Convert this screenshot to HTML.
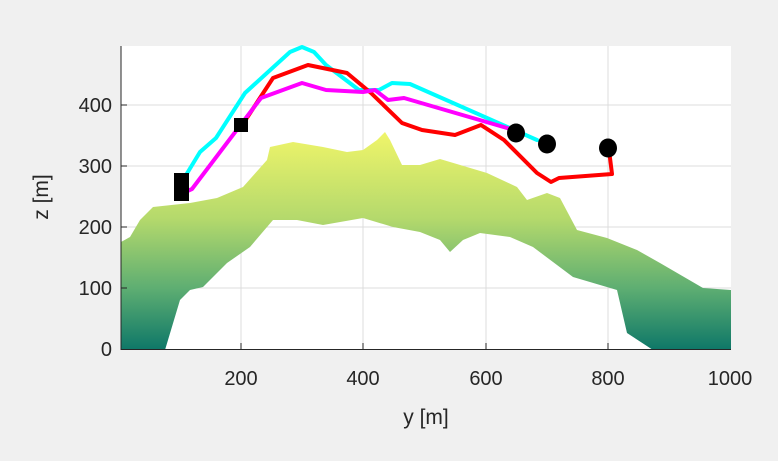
<!DOCTYPE html>
<html><head><meta charset="utf-8"><style>
html,body{margin:0;padding:0;background:#f0f0f0;}
svg{display:block;font-family:"Liberation Sans",sans-serif;}
</style></head><body>
<svg width="778" height="461" viewBox="0 0 778 461">
<defs>
<linearGradient id="g" gradientUnits="userSpaceOnUse" x1="0" y1="132" x2="0" y2="349">
<stop offset="0" stop-color="#f0f56a"/>
<stop offset="0.4" stop-color="#b4d96c"/>
<stop offset="0.72" stop-color="#5eae72"/>
<stop offset="1" stop-color="#0f7868"/>
</linearGradient>
</defs>
<rect x="121" y="46" width="610" height="303" fill="#fff"/>
<g stroke="#dcdcdc" stroke-width="1">
<line x1="241" y1="46" x2="241" y2="349"/><line x1="363" y1="46" x2="363" y2="349"/>
<line x1="486" y1="46" x2="486" y2="349"/><line x1="608" y1="46" x2="608" y2="349"/>
<line x1="121" y1="105" x2="731" y2="105"/><line x1="121" y1="166" x2="731" y2="166"/>
<line x1="121" y1="227" x2="731" y2="227"/><line x1="121" y1="288" x2="731" y2="288"/>
</g>
<path fill="url(#g)" d="M121,242 L130,237 L140,220 L153,207 L190,203 L217,198 L243,187 L267,160 L270,147 L293,142 L323,147 L347,152 L363,150 L377,140 L385,132 L390,140 L402,165 L420,165 L440,159 L487,173 L517,187 L527,200 L547,193 L560,198 L577,230 L607,238 L637,250 L660,263 L703,288 L731,290 L731,350 L653,350 L627,333 L617,290 L573,277 L533,247 L510,237 L480,233 L463,240 L450,252 L440,240 L420,232 L393,227 L363,218 L323,225 L297,220 L273,220 L250,247 L227,263 L203,287 L190,290 L180,300 L165,350 L121,350 Z"/>
<g fill="none" stroke-width="4" stroke-linejoin="round" stroke-linecap="round">
<polyline stroke="#00ffff" points="183,180 200,152 216,138 245,93 290,52 302,47 314,52 326,65 359,90 379,90 392,83 410,84 537,140"/>
<polyline stroke="#ff0000" points="241,127 273,78 308,65 347,73 371,93 402,123 422,130 455,135 481,125 504,140 537,173 551,182 559,178 612,174 609,150"/>
<polyline stroke="#ff00ff" points="183,193 192,189 261,98 302,83 326,90 363,92 375,90 388,100 404,98 514,130"/>
</g>
<rect x="174" y="173" width="15" height="28" fill="#000"/>
<rect x="234" y="118" width="14" height="14" fill="#000"/>
<ellipse cx="516" cy="133" rx="9" ry="9.5" fill="#000"/>
<ellipse cx="547" cy="144" rx="9" ry="9.5" fill="#000"/>
<ellipse cx="608" cy="148" rx="9" ry="9.5" fill="#000"/>
<g stroke="#262626" stroke-width="1">
<line x1="121" y1="46" x2="121" y2="349.5"/><line x1="120.5" y1="349.5" x2="731" y2="349.5"/>
<line x1="121" y1="105" x2="127" y2="105"/><line x1="121" y1="166" x2="127" y2="166"/>
<line x1="121" y1="227" x2="127" y2="227"/><line x1="121" y1="288" x2="127" y2="288"/>
<line x1="241" y1="349" x2="241" y2="343"/><line x1="363" y1="349" x2="363" y2="343"/>
<line x1="486" y1="349" x2="486" y2="343"/><line x1="608" y1="349" x2="608" y2="343"/>
</g>
<g fill="#262626" font-size="20" text-anchor="end">
<text x="112" y="112">400</text><text x="112" y="173">300</text>
<text x="112" y="234">200</text><text x="112" y="295">100</text><text x="112" y="356">0</text>
</g>
<g fill="#262626" font-size="20" text-anchor="middle">
<text x="241" y="385">200</text><text x="363" y="385">400</text>
<text x="486" y="385">600</text><text x="608" y="385">800</text><text x="730" y="385">1000</text>
<text x="426" y="424" font-size="21">y [m]</text>
<text transform="translate(48,197) rotate(-90)" font-size="21">z [m]</text>
</g>
</svg>
</body></html>
